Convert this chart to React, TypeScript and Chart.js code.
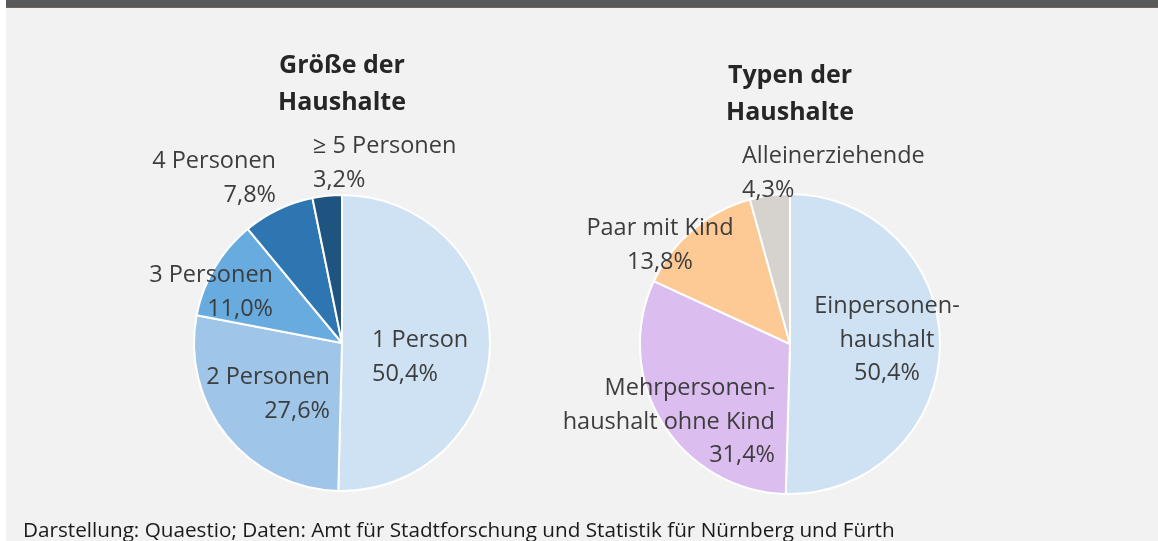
import React, { useEffect, useRef } from "react";
import { Chart, registerables } from "chart.js";

Chart.register(...registerables);

// ---------- data ----------
const sizeTitle = ["Größe der", "Haushalte"];
const sizeCategories = ["1 Person", "2 Personen", "3 Personen", "4 Personen", "≥ 5 Personen"];
const sizeValues = [50.4, 27.6, 11.0, 7.8, 3.2];

const typeTitle = ["Typen der", "Haushalte"];
const typeCategories = ["Einpersonenhaushalt", "Mehrpersonenhaushalt ohne Kind", "Paar mit Kind", "Alleinerziehende"];
const typeValues = [50.4, 31.4, 13.8, 4.3];

const footerText = "Darstellung: Quaestio; Daten: Amt für Stadtforschung und Statistik für Nürnberg und Fürth";

// ---------- styles / layout ----------
const W = 1158;
const H = 541;
const sizeColors = ["#cfe2f3", "#9fc6e8", "#68abdf", "#2e76b2", "#1f5380"];
const typeColors = ["#cfe2f3", "#dcbdef", "#fdca96", "#d6d3cf"];

const LABEL_FONT = "23.5px 'Open Sans'";
const TITLE_FONT = "bold 25px 'Open Sans'";
const TEXT_COLOR = "#3d3d3d";
const TITLE_COLOR = "#262626";
const LINE_H = 33.5;
const TITLE_LINE_H = 37;

type LabelLayout = { lines: string[]; align: CanvasTextAlign; dx: number; dy: number };

const fmt = (v: number) => v.toFixed(1).replace(".", ",") + "%";

const sizeLabelLayout: LabelLayout[] = [
  { lines: ["1 Person"], align: "left", dx: 30, dy: 4 },
  { lines: ["2 Personen"], align: "right", dx: -12, dy: 41 },
  { lines: ["3 Personen"], align: "right", dx: -69, dy: -61 },
  { lines: ["4 Personen"], align: "right", dx: -66, dy: -175 },
  { lines: ["≥ 5 Personen"], align: "left", dx: -29, dy: -190 },
];
const typeLabelLayout: LabelLayout[] = [
  { lines: ["Einpersonen-", "haushalt"], align: "center", dx: 97, dy: -31 },
  { lines: ["Mehrpersonen-", "haushalt ohne Kind"], align: "right", dx: -15, dy: 51 },
  { lines: ["Paar mit Kind"], align: "center", dx: -130, dy: -109 },
  { lines: ["Alleinerziehende"], align: "left", dx: -48, dy: -181 },
];

type PieSpec = {
  title: string[];
  titleDy: number;
  categories: string[];
  values: number[];
  colors: string[];
  labels: LabelLayout[];
  cx: number;
  cy: number;
  r: number;
};

const pies: PieSpec[] = [
  { title: sizeTitle, titleDy: -270, categories: sizeCategories, values: sizeValues, colors: sizeColors, labels: sizeLabelLayout, cx: 342, cy: 343, r: 148 },
  { title: typeTitle, titleDy: -261, categories: typeCategories, values: typeValues, colors: typeColors, labels: typeLabelLayout, cx: 790, cy: 344, r: 150 },
];

function makeLabelPlugin(spec: PieSpec) {
  return {
    id: "pieLabels",
    afterDraw(chart: any) {
      const meta = chart.getDatasetMeta(0);
      const first = meta.data[0] as any;
      if (!first) return;
      const cx = first.x;
      const cy = first.y;
      const ctx = chart.ctx as CanvasRenderingContext2D;
      ctx.save();
      ctx.textBaseline = "alphabetic";
      // title
      ctx.font = TITLE_FONT;
      ctx.fillStyle = TITLE_COLOR;
      ctx.textAlign = "center";
      spec.title.forEach((t, i) => ctx.fillText(t, cx, cy + spec.titleDy + i * TITLE_LINE_H));
      // slice labels
      ctx.font = LABEL_FONT;
      ctx.fillStyle = TEXT_COLOR;
      spec.labels.forEach((lab, i) => {
        const lines = [...lab.lines, fmt(spec.values[i])];
        ctx.textAlign = lab.align;
        lines.forEach((ln, j) => ctx.fillText(ln, cx + lab.dx, cy + lab.dy + j * LINE_H));
      });
      ctx.restore();
    },
  };
}

function PieCanvas({ spec }: { spec: PieSpec }) {
  const ref = useRef<HTMLCanvasElement | null>(null);
  useEffect(() => {
    if (!ref.current) return;
    const half = spec.r + 10;
    const chart = new Chart(ref.current, {
      type: "pie",
      data: {
        labels: spec.categories,
        datasets: [
          {
            data: spec.values,
            backgroundColor: spec.colors,
            borderColor: "#ffffff",
            borderWidth: 2,
            radius: spec.r,
          } as any,
        ],
      },
      options: {
        responsive: false,
        animation: false,
        devicePixelRatio: 1,
        events: [],
        layout: {
          padding: {
            left: spec.cx - half,
            right: W - spec.cx - half,
            top: spec.cy - half,
            bottom: H - spec.cy - half,
          },
        },
        plugins: {
          legend: { display: false },
          tooltip: { enabled: false },
          title: { display: false },
        },
      },
      plugins: [makeLabelPlugin(spec)],
    });
    return () => chart.destroy();
  }, [spec]);
  return (
    <canvas
      ref={ref}
      width={W}
      height={H}
      style={{ position: "absolute", left: 0, top: 0, width: W, height: H }}
    />
  );
}

export default function App() {
  return (
    <div
      style={{
        position: "absolute",
        left: 0,
        top: 0,
        width: W,
        height: H,
        overflow: "hidden",
        background: "#ffffff",
      }}
    >
      <div style={{ position: "absolute", left: 6, top: 0, right: 0, bottom: 0, background: "#f2f2f2" }} />
      <div
        style={{
          position: "absolute",
          left: 6,
          top: 0,
          right: 0,
          height: 7,
          background: "#595959",
          borderBottom: "1px solid #6e655c",
        }}
      />
      {pies.map((p, i) => (
        <PieCanvas key={i} spec={p} />
      ))}
      <div
        style={{
          position: "absolute",
          left: 23,
          top: 514,
          fontFamily: "'Open Sans'",
          fontSize: 20.7,
          color: "#1a1a1a",
          whiteSpace: "nowrap",
          lineHeight: "30px",
        }}
      >
        {footerText}
      </div>
    </div>
  );
}
